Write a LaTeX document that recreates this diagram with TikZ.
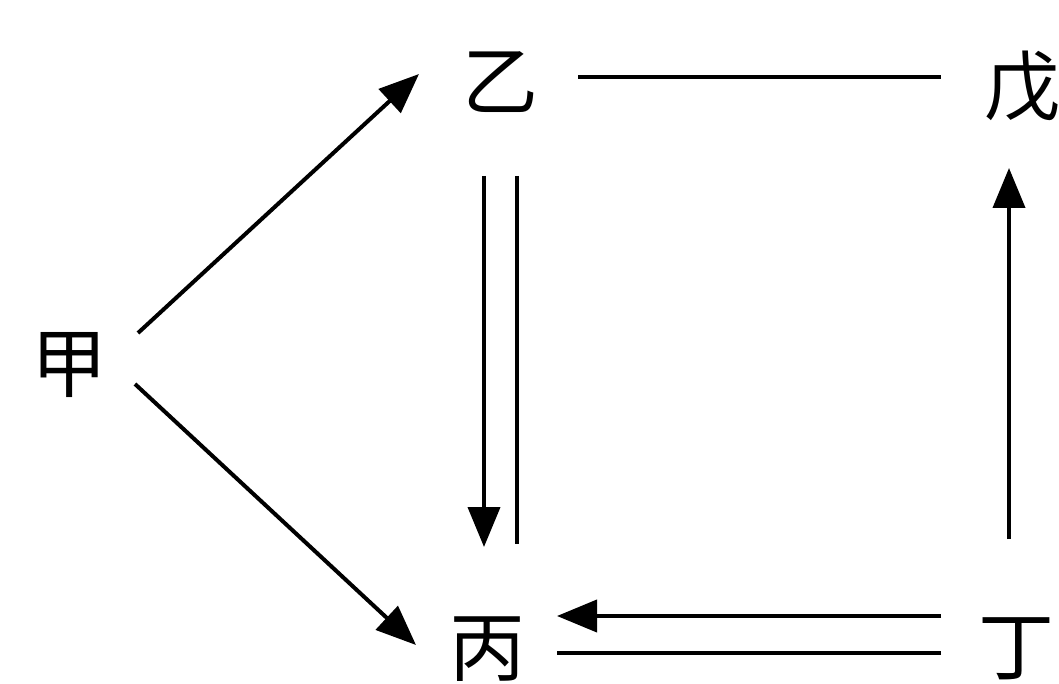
\documentclass[tikz,border=0pt]{standalone}
\usepackage{fontspec}
\newfontfamily\cjk{Noto Sans CJK SC}
\usetikzlibrary{arrows.meta}
\begin{document}
\begin{tikzpicture}[x=1pt,y=-1pt,
  lbl/.style={inner sep=0pt, font=\cjk\fontsize{76}{80}\selectfont},
  ln/.style={line width=4pt, draw=black},
  arr/.style={ln, -{Triangle[length=40pt,width=32pt]}}]
\useasboundingbox (0,0) rectangle (1059,684);
\clip (0,0) rectangle (1059,684);
\fill[white] (0,0) rectangle (1059,684);
% nodes
\node[lbl] (jia)  at (69,365)  {甲};
\node[lbl] (yi)   at (500,82)  {乙};
\node[lbl] (wu)   at (1022,86) {戊};
\node[lbl] (bing) at (487,649) {丙};
\node[lbl] (ding) at (1016,649) {丁};
% endpoints
\coordinate (jyS) at (138,333); \coordinate (jyE) at (419,74);
\coordinate (jbS) at (135,384); \coordinate (jbE) at (416,645);
\coordinate (ywS) at (578,77);  \coordinate (ywE) at (941,77);
\coordinate (yb1S) at (484,176); \coordinate (yb1E) at (484,547);
\coordinate (yb2S) at (517,176); \coordinate (yb2E) at (517,544);
\coordinate (dwS) at (1009,539); \coordinate (dwE) at (1009,168);
\coordinate (db1S) at (941,616); \coordinate (db1E) at (557,616);
\coordinate (db2S) at (941,653); \coordinate (db2E) at (557,653);
% connectors
\draw[arr] (jyS) -- (jyE);
\draw[arr] (jbS) -- (jbE);
\draw[ln] (ywS) -- (ywE);
\draw[arr] (yb1S) -- (yb1E);
\draw[ln] (yb2S) -- (yb2E);
\draw[arr] (dwS) -- (dwE);
\draw[arr] (db1S) -- (db1E);
\draw[ln] (db2S) -- (db2E);
\end{tikzpicture}
\end{document}
